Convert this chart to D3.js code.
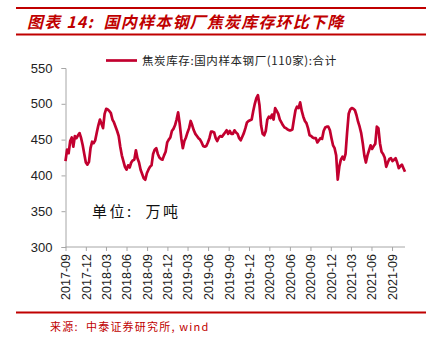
<!DOCTYPE html>
<html lang="zh">
<head>
  <meta charset="UTF-8">
  <title>国内样本钢厂焦炭库存</title>
  <script src="https://d3js.org/d3.v7.min.js"></script>
  <style>
    body {
      margin: 0;
      background-color: #fff;
    }

    .title {
      font-family: "Noto Sans CJK SC", sans-serif;
      font-size: 16px;
      font-style: italic;
      font-weight: bold;
      letter-spacing: 1.2px;
      fill: #c00000;
    }

    .legend-text {
      font-family: "Noto Sans CJK SC", serif;
      font-size: 11.5px;
      letter-spacing: 0.6px;
      fill: #222;
    }

    .unit {
      font-family: "Noto Sans CJK SC", sans-serif;
      font-size: 15px;
      letter-spacing: 2.5px;
      fill: #111;
    }

    .source {
      font-family: "Noto Sans CJK SC", monospace;
      font-size: 11px;
      letter-spacing: 1.2px;
      fill: #c00000;
    }

    .axis path,
    .axis line {
      stroke: #a6a6a6;
    }

    .axis text {
      font-family: Arial, "Liberation Sans", sans-serif;
      fill: #222;
    }
  </style>
</head>
<body>
  <svg width="437" height="347"></svg>
  <script>
    // Weekly coke inventory at 110 sample steel mills (10k tonnes), from 2017-09-01
    const startDate = "2017-09-01";
    const inventory = [
      420, 436, 431, 448, 453, 440, 455, 452, 456, 459,
      452, 442, 430, 418, 415, 419, 438, 447, 445, 449,
      460, 470, 478, 472, 466, 486, 493, 492, 490, 487,
      478, 474, 468, 462, 455, 440, 428, 420, 412, 408,
      414, 411, 418, 421, 422, 435, 424, 418, 408, 402,
      396, 394, 403, 408, 412, 414, 430, 436, 438, 430,
      425, 423, 422, 428, 433, 446, 450, 453, 462, 465,
      470, 478, 488, 472, 452, 438, 448, 453, 460, 466,
      476, 470, 463, 458, 455, 452, 450, 446, 441, 440,
      441, 446, 452, 461, 461, 460, 452, 448, 453, 455,
      454, 457, 460, 463, 458, 462, 458, 458, 463, 460,
      458, 452, 449, 454, 459, 466, 474, 476, 477, 478,
      490, 500, 508, 512, 498, 470, 458, 456, 462, 478,
      482, 480, 485, 478, 494, 490, 486, 478, 474, 470,
      467, 466, 464, 463, 463, 464, 478, 491, 496, 494,
      502, 490, 482, 476, 473, 466, 456, 455, 453, 452,
      452, 446, 449, 452, 451, 462, 467, 468, 468, 463,
      452, 442, 438, 428, 394, 412, 422, 426, 422, 430,
      460, 486, 492, 494, 493, 491, 484, 475, 468, 459,
      445, 428, 418, 428, 435, 442, 437, 441, 444, 468,
      466, 445, 433, 430, 425, 412, 418, 423, 424, 420,
      422, 424, 418, 410, 413, 415, 410, 405
    ];

    const xTickLabels = [
      "2017-09", "2017-12", "2018-03", "2018-06", "2018-09", "2018-12",
      "2019-03", "2019-06", "2019-09", "2019-12", "2020-03", "2020-06",
      "2020-09", "2020-12", "2021-03", "2021-06", "2021-09"
    ];
    const yTicks = [300, 350, 400, 450, 500, 550];

    const seriesName = "焦炭库存:国内样本钢厂(110家):合计";
    const titleText = "图表 14:  国内样本钢厂焦炭库存环比下降";
    const unitText = "单位:  万吨";
    const sourceText = "来源:  中泰证券研究所, wind";

    const red = "#c00000";
    const lineColor = "#c2002f";

    const svg = d3.select("svg");

    const parseDay = d3.timeParse("%Y-%m-%d");
    const parseMonth = d3.timeParse("%Y-%m");
    const t0 = parseDay(startDate);

    const data = inventory.map((v, i) => ({
      date: d3.timeDay.offset(t0, i * 7),
      value: v
    }));

    // Plot frame
    const plot = { left: 65.5, right: 405, top: 68, bottom: 247 };

    const x = d3.scaleTime()
      .domain([t0, data[data.length - 1].date])
      .range([plot.left, plot.right]);

    const y = d3.scaleLinear()
      .domain([300, 550])
      .range([plot.bottom, plot.top]);

    // Header and footer rules
    svg.append("line")
      .attr("x1", 16).attr("x2", 426).attr("y1", 8).attr("y2", 8)
      .attr("stroke", red).attr("stroke-width", 2);
    svg.append("line")
      .attr("x1", 16).attr("x2", 426).attr("y1", 34.5).attr("y2", 34.5)
      .attr("stroke", red).attr("stroke-width", 2);
    svg.append("line")
      .attr("x1", 16).attr("x2", 426).attr("y1", 312.5).attr("y2", 312.5)
      .attr("stroke", red).attr("stroke-width", 2);

    svg.append("text")
      .attr("class", "title")
      .attr("x", 27)
      .attr("y", 28)
      .attr("xml:space", "preserve")
      .text(titleText);

    svg.append("text")
      .attr("class", "source")
      .attr("x", 50)
      .attr("y", 331)
      .attr("xml:space", "preserve")
      .text(sourceText);

    // Y axis
    const yAxis = svg.append("g")
      .attr("class", "axis")
      .attr("transform", `translate(${plot.left},0)`)
      .call(d3.axisLeft(y).tickValues(yTicks).tickSize(4).tickPadding(9));
    yAxis.selectAll("text").style("font-size", "13px");

    // X axis
    const xAxis = svg.append("g")
      .attr("class", "axis")
      .attr("transform", `translate(0,${plot.bottom})`)
      .call(d3.axisBottom(x)
        .tickValues(xTickLabels.map(parseMonth))
        .tickFormat(d3.timeFormat("%Y-%m"))
        .tickSize(4)
        .tickSizeOuter(0));
    xAxis.select(".domain").attr("d", `M${plot.left},0H${plot.right}`);
    xAxis.selectAll("text")
      .style("font-size", "12.5px")
      .attr("transform", "rotate(-90)")
      .attr("text-anchor", "end")
      .attr("x", -7)
      .attr("y", 0)
      .attr("dy", "0.35em");

    // Series line
    const line = d3.line()
      .x(d => x(d.date))
      .y(d => y(d.value));

    svg.append("path")
      .datum(data)
      .attr("fill", "none")
      .attr("stroke", lineColor)
      .attr("stroke-width", 2.7)
      .attr("stroke-linejoin", "round")
      .attr("d", line);

    // Legend
    svg.append("line")
      .attr("x1", 106).attr("x2", 137).attr("y1", 60.5).attr("y2", 60.5)
      .attr("stroke", lineColor).attr("stroke-width", 2.7);
    svg.append("text")
      .attr("class", "legend-text")
      .attr("x", 142)
      .attr("y", 65)
      .text(seriesName);

    // Unit note
    svg.append("text")
      .attr("class", "unit")
      .attr("x", 92)
      .attr("y", 217)
      .attr("xml:space", "preserve")
      .text(unitText);
  </script>
</body>
</html>
